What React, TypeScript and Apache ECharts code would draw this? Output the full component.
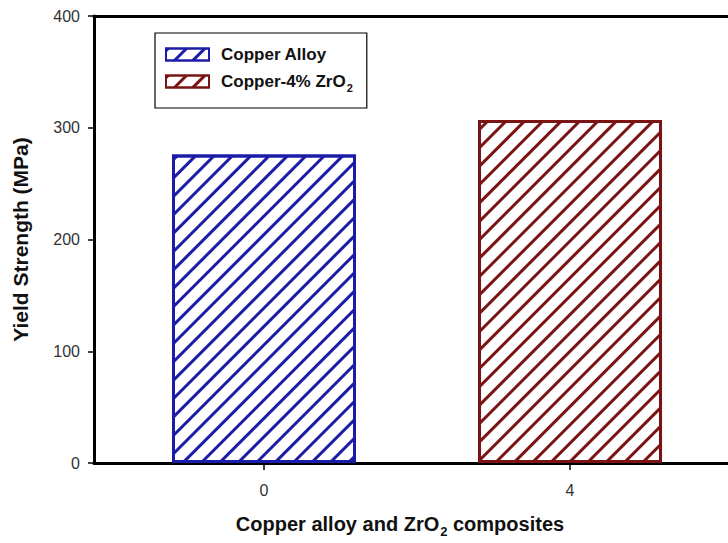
import React, { useEffect, useRef } from "react";
import * as echarts from "echarts";

const seriesNames = ["Copper Alloy", "Copper-4% ZrO2"];
const xPositions = [0, 4];
const yieldStrength = [276, 307];
const xTicks = [0, 4];
const yTicks = [0, 100, 200, 300, 400];
const barColors = ["#1c1ca6", "#7a1414"];

const FONT = "Liberation Sans, Arial, sans-serif";

export default function App() {
  const ref = useRef<HTMLDivElement>(null);
  useEffect(() => {
    if (!ref.current) return;
    const chart = echarts.init(ref.current, undefined, { renderer: "svg" });
    const subRich = {
      sub: { fontSize: 11, fontWeight: "bold", verticalAlign: "bottom", fontFamily: FONT, padding: [0, 0, -3, 1] },
    };
    const xMin = -2.222;
    const xMax = 6.065;
    const option: any = {
      animation: false,
      backgroundColor: "#ffffff",
      grid: {
        left: 94,
        top: 16,
        right: 0,
        bottom: 78,
        show: false,
      },
      legend: {
        orient: "vertical",
        left: 155,
        top: 33,
        padding: [13, 14, 15, 10],
        itemWidth: 43,
        itemHeight: 12,
        itemGap: 10,
        borderColor: "#000",
        borderWidth: 1.2,
        icon: "rect",
        textStyle: {
          fontFamily: FONT,
          fontSize: 17,
          fontWeight: "bold",
          color: "#111",
          padding: [0, 0, 0, 7],
          rich: subRich,
        },
        formatter: (n: string) => n.replace("ZrO2", "ZrO{sub|2}"),
        data: seriesNames,
      },
      xAxis: [
        {
          type: "value",
          min: xMin,
          max: xMax,
          name: "Copper alloy and ZrO{sub|2} composites",
          nameLocation: "middle",
          nameGap: 51,
          nameTextStyle: {
            fontFamily: FONT,
            fontSize: 20,
            fontWeight: "bold",
            color: "#111",
            padding: [0, 22, 0, 0],
            rich: { sub: { fontSize: 13, fontWeight: "bold", verticalAlign: "bottom", fontFamily: FONT, padding: [0, 0, -4, 1] } },
          },
          splitLine: { show: false },
          axisLine: { show: true, onZero: false, lineStyle: { color: "#000", width: 3 } },
          axisTick: { show: true, customValues: xTicks, length: 7, lineStyle: { color: "#000", width: 1.5 } },
          axisLabel: {
            customValues: xTicks,
            margin: 19,
            fontFamily: FONT,
            fontSize: 16,
            color: "#333",
          },
        },
        {
          type: "value",
          position: "top",
          min: xMin,
          max: xMax,
          splitLine: { show: false },
          axisLine: { show: true, onZero: false, lineStyle: { color: "#000", width: 3 } },
          axisTick: { show: false },
          axisLabel: { show: false },
        },
      ],
      yAxis: {
        type: "value",
        min: yTicks[0],
        max: yTicks[yTicks.length - 1],
        interval: 100,
        name: "Yield Strength (MPa)",
        nameLocation: "middle",
        nameGap: 63,
        nameTextStyle: { fontFamily: FONT, fontSize: 21, fontWeight: "bold", color: "#111" },
        splitLine: { show: false },
        axisLine: { show: true, onZero: false, lineStyle: { color: "#000", width: 3 } },
        axisTick: { show: true, length: 6, lineStyle: { color: "#000", width: 1.5 } },
        axisLabel: { margin: 14, fontFamily: FONT, fontSize: 16, color: "#333" },
      },
      series: seriesNames.map((name, i) => ({
        name,
        type: "bar",
        xAxisIndex: 0,
        barWidth: 184,
        barGap: "-100%",
        data: [[xPositions[i], yieldStrength[i]]],
        itemStyle: {
          color: "#ffffff",
          borderColor: barColors[i],
          borderWidth: 3,
          decal: {
            symbol: "rect",
            symbolSize: 1,
            dashArrayX: [1, 0],
            dashArrayY: [3, 10],
            rotation: -Math.PI / 4,
            color: barColors[i],
            backgroundColor: "#ffffff",
          },
        },
      })),
    };
    chart.setOption(option);
    return () => chart.dispose();
  }, []);
  return (
    <div
      ref={ref}
      style={{ position: "absolute", left: 0, top: 0, width: 728, height: 543, background: "#fff" }}
    />
  );
}
